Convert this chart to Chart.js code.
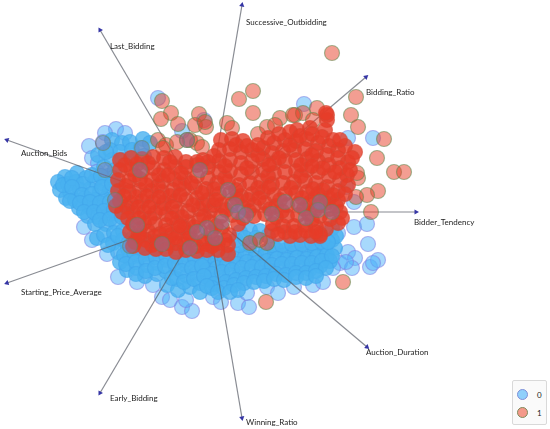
<!DOCTYPE html>
<html>
<head>
<meta charset="utf-8">
<script src="https://cdn.jsdelivr.net/npm/chart.js@4"></script>
<style>
    body { margin: 0; background: #fff; }
    #wrap { position: relative; width: 550px; height: 429px; overflow: hidden; }
    #legend { position: absolute; left: 512px; top: 380px; width: 33px; height: 43px; border: 1px solid #d9d9d9; border-radius: 2px; background: #fafafa; font: 8px Lato, sans-serif; color: #222; }
    #legend span { position: absolute; left: 24px; }
    #legend i { position: absolute; left: 4px; width: 9px; height: 9px; border-radius: 50%; border: 1.5px solid; }
</style>
</head>
<body>
<div id="wrap">
    <canvas id="radvizChart" width="550" height="429"></canvas>
    <div id="legend">
        <i style="top:8px;background:#8fd0fb;border-color:#7f8fd8"></i><span style="top:9px">0</span>
        <i style="top:26px;background:#f4998a;border-color:#7f8a5a"></i><span style="top:27px">1</span>
    </div>
</div>
<script>
const originPoint = [207, 212];
const anchorNames = ['Successive_Outbidding', 'Last_Bidding', 'Auction_Bids', 'Starting_Price_Average', 'Early_Bidding', 'Winning_Ratio', 'Auction_Duration', 'Bidder_Tendency', 'Bidding_Ratio'];
const anchorX = [242, 100, 7, 7, 100, 242, 367, 416, 366];
const anchorY = [5, 30, 140, 283, 393, 418, 347, 212, 77];
const labelX = [246, 110, 21, 21, 110, 246, 366, 414, 366];
const labelY = [22, 46, 153, 292, 398, 422, 352, 222, 92];

// class 0, loose points around the rim of the cloud
const class0Rim = [
    [116,129],[105,133],[125,133],[89,146],[103,142],[92,158],[98,163],[97,172],[84,227],[92,240],[107,254],[118,277],[137,282],[153,285],[162,297],[170,300],[182,307],[192,311],[186,300],[213,297],[221,302],[238,303],[249,307],[247,293],[267,287],[278,293],[294,287],[313,285],[323,282],
    [340,263],[348,252],[355,258],[352,268],[346,262],[370,267],[378,260],[368,244],[354,227],[367,224],[373,263],[333,268],[338,233],
    [158,98],[204,120],[182,131],[304,104],[348,138],[373,138],[346,187],[354,202]
];

// class 0, the packed part of the cloud
const class0Core = [
    [112,140],[122,143],[130,142],[143,139],[110,150],[120,152],[132,150],[141,148],[150,143],[98,155],[104,167],[112,160],[108,176],[122,160],[132,158],[144,156],[115,170],[106,152],
    [77,173],[65,177],[58,182],[60,190],[68,184],[76,182],[86,178],[95,181],[104,184],[113,178],[70,192],[80,190],[90,189],[100,192],[110,190],[118,186],[66,198],[75,200],[85,198],[95,200],[105,199],[115,197],[79,208],[89,207],[99,208],[109,207],[118,205],[88,216],[98,217],[108,215],[118,214],[127,211],[95,224],[106,224],[116,223],[127,221],
    [63,185],[72,178],[83,184],[92,175],[101,176],[72,187],[82,195],[92,194],[102,187],[112,184],[70,201],[80,203],[90,202],[100,203],[110,202],[84,212],[94,212],[104,211],[114,210],[100,220],[110,219],[122,217],
    [97,238],[104,235],[114,233],[123,231],[113,243],[123,240],[133,238],[118,252],[128,249],[138,247],[148,244],[120,262],[130,258],[140,256],[150,254],[160,252],[127,270],[137,268],[145,276],[147,265],[157,263],[167,260],[177,257],[187,255],[157,274],[166,271],[176,268],[186,265],[196,263],[206,260],[216,258],[226,255],[236,254],[246,252],[256,253],[266,251],[276,249],[286,250],[296,248],[306,249],[316,247],[326,245],
    [108,245],[118,236],[128,244],[124,255],[134,252],[144,250],[154,248],[126,264],[136,262],[146,259],[156,257],[166,255],[176,252],[186,250],[196,256],[206,254],[216,252],[136,274],[146,271],[155,268],[165,266],[175,263],[185,260],[195,258],[205,265],[215,263],[225,260],[235,259],[245,257],[255,258],[265,256],[275,254],[285,255],[295,253],[305,254],[315,252],[325,250],[240,245],[250,245],[272,245],[282,245],[292,244],[302,244],[312,243],[322,242],[332,240],
    [167,285],[177,279],[187,276],[197,273],[207,270],[217,268],[227,265],[237,264],[247,262],[257,263],[267,261],[277,259],[287,260],[297,258],[307,259],[317,257],[327,255],[335,248],[178,290],[190,287],[200,283],[210,280],[220,278],[230,275],[240,274],[250,272],[260,273],[270,271],[280,269],[290,270],[300,268],[310,269],[320,266],[330,261],
    [172,278],[182,271],[192,268],[202,266],[212,274],[222,272],[232,270],[242,268],[252,267],[262,267],[272,265],[282,264],[292,264],[302,263],[312,263],[322,261],[332,256],[184,282],[194,279],[204,276],[214,284],[226,282],[236,280],[246,278],[256,277],[266,276],[276,274],[286,275],[296,273],[306,273],[316,271],[326,268],
    [200,292],[212,288],[224,288],[234,285],[244,283],[254,282],[264,281],[274,279],[284,280],[296,277],[306,278],[316,276],[207,286],[218,292],[230,292],[238,290],
    [240,232],[250,230],[260,231],[268,236],[236,240],[245,238],[256,238],[332,228],[336,236],[328,242]
];

// class 1, the loose points that stand clear of the pack
const class1Rim = [
    [162,101],[171,113],[161,119],[178,124],[199,114],[195,125],[206,127],[205,122],[227,123],[232,128],[239,99],[253,91],[253,113],[190,140],[197,143],[202,147],[158,140],[166,145],[163,148],[187,140],[177,142],[332,53],[356,97],[351,115],[358,127],[384,139],[377,158],[394,172],[404,172],[378,191],[367,195],[356,197],[371,212],[358,178],[357,173],[295,115],[303,113],[280,118],[258,134],[267,127],[275,125],[293,115],[317,108],[313,120],[266,302],[343,282],[250,243],[260,240],[267,243]
];

// class 1, the packed part of the cloud
const class1Core = [
    [355,152],[327,115],[327,120],[326,113],[325,130],[310,128],[297,130],
    [120,160],[131,158],[142,159],[153,157],[164,158],[175,157],[120,170],[131,169],[142,171],[153,168],[164,170],[175,167],[186,162],[197,162],[208,162],[221,140],[232,139],[243,141],[219,150],[230,149],[241,152],[252,150],[263,148],[274,143],[285,140],[296,141],[307,139],[318,143],[329,146],[338,150],[272,153],[283,151],[294,150],[305,149],[316,151],[327,155],[338,158],[348,162],
    [118,180],[129,181],[140,179],[152,180],[163,181],[174,179],[185,178],[186,167],[197,165],[208,167],[219,161],[230,160],[241,163],[252,161],[263,159],[274,163],[285,161],[296,160],[307,159],[318,161],[329,165],[340,168],[347,175],[197,176],[208,178],[219,172],[230,171],[241,174],[252,172],[263,170],[274,173],[285,172],[296,171],[307,170],[318,172],[329,176],[340,180],[348,185],
    [118,191],[129,192],[140,190],[151,191],[162,192],[173,190],[184,189],[195,187],[206,189],[217,183],[228,182],[239,185],[250,183],[261,181],[272,184],[283,183],[294,182],[305,181],[316,183],[327,187],[338,191],[120,201],[131,203],[142,201],[153,202],[164,203],[175,201],[186,200],[197,198],[208,200],[219,194],[230,193],[241,196],[252,194],[263,192],[274,195],[285,194],[296,193],[307,192],[318,194],[329,198],[338,200],
    [122,212],[133,213],[144,212],[155,213],[166,214],[177,212],[188,211],[199,209],[210,211],[221,205],[232,204],[243,207],[254,205],[265,203],[276,206],[287,205],[298,204],[309,203],[320,205],[330,209],[340,212],[133,224],[144,223],[155,224],[166,225],[177,223],[188,222],[199,220],[210,222],[221,216],[232,215],[243,218],[254,216],[265,214],[276,217],[287,216],[298,215],[309,214],[320,216],[330,219],[338,223],
    [130,232],[148,231],[160,234],[171,235],[178,233],[189,233],[200,231],[211,232],[222,227],[229,235],[283,226],[294,226],[305,225],[316,227],[326,229],[272,231],[290,236],[300,235],[311,236],[320,234],[176,243],[176,252],[212,238],[228,245],[228,254],[192,240],[204,241],[285,232],[320,236],
    [125,165],[148,163],[170,162],[203,160],[236,145],[258,155],[290,145],[312,155],[335,172],[126,186],[158,186],[180,184],[225,178],[268,176],[301,176],[323,190],[136,197],[170,196],[214,189],[258,188],[291,188],[333,195],[127,207],[161,208],[203,204],[248,200],[280,200],[315,198],[150,218],[182,217],[226,210],[270,209],[304,209],[342,218],[140,228],[194,227],[238,224],[312,220],
    [137,164],[159,175],[181,173],[214,156],[247,146],[279,158],[301,165],[323,168],[135,175],[146,185],[168,175],[191,183],[225,166],[247,168],[269,165],[312,166],[345,194],[124,196],[147,196],[159,197],[180,195],[202,193],[236,190],[269,187],[313,189],[116,206],[138,207],[149,207],[172,207],[193,205],[214,205],[237,199],[259,198],[302,198],[326,203],[128,218],[139,218],[172,218],[204,216],[216,200],[249,211],[282,211],[315,210],[336,206],[273,224],[138,236],[155,236],[166,231],[184,228],[216,226],
    [135,242],[146,240],[157,242],[168,243],[184,244],[196,246],[206,244],[218,243],[225,240],[140,236],[152,245],[164,240],[212,246],[188,238],[175,238],[278,234],[295,232],[306,231],[316,232],[180,226],
    [258,145],[268,138],[279,134],[290,132],[300,136],[312,134],[322,137],[333,140],[345,146],[340,140],[352,158],[350,170],[133,246],[145,248],[156,249],[166,249],[186,250],[197,251],[207,250],[218,250]
];

// class 0 points that sit on top of the red and turn it muddy
const class0Mixed = [
    [140,170],[235,205],[285,202],[320,202],[238,212],[190,248],[207,228],[137,225],[105,170],[115,200],[142,148],[187,140],[103,143],[300,205],[246,215],[272,214],[162,244],[215,238],[200,170],[228,190],[222,222],[306,218],[318,210],[130,246],[197,232],[332,212]
];

// one short line dataset per anchor, from the middle of the cloud out to its arrow tip
const anchorSets = anchorNames.map(function(name, i) {
    let angle = Math.atan2(anchorX[i] - originPoint[0], originPoint[1] - anchorY[i]) * 180 / Math.PI;
    return {
        type: 'line',
        label: name,
        data: [{x: originPoint[0], y: originPoint[1]}, {x: anchorX[i], y: anchorY[i]}],
        borderColor: 'rgba(85, 90, 100, 0.7)',
        borderWidth: 1.2,
        pointRadius: [0, 3],
        pointStyle: 'triangle',
        pointRotation: [0, angle],
        pointBackgroundColor: '#3535a5',
        pointBorderColor: '#3535a5',
        pointBorderWidth: 0,
        order: 3
    };
});

function toPoints(list) {
    return list.map(function(p) {
        return {x: p[0], y: p[1]};
    });
}

function pointSet(label, list, fill, edge, order) {
    return {
        label: label,
        data: toPoints(list),
        backgroundColor: fill,
        borderColor: edge,
        borderWidth: 1.2,
        pointRadius: 7.5,
        order: order
    };
}

// names next to the arrow tips
const anchorLabels = {
    id: 'anchorLabels',
    afterDatasetsDraw: function(chart) {
        let ctx = chart.ctx;
        ctx.save();
        ctx.font = '8px Lato, sans-serif';
        ctx.fillStyle = '#1c1c1c';
        ctx.textBaseline = 'middle';
        anchorNames.forEach(function(name, i) {
            ctx.fillText(name, chart.scales.x.getPixelForValue(labelX[i]), chart.scales.y.getPixelForValue(labelY[i]));
        });
        ctx.restore();
    }
};

new Chart(document.getElementById('radvizChart').getContext('2d'), {
    type: 'scatter',
    data: {
        datasets: [
            pointSet('0', class0Rim, 'rgba(80, 180, 250, 0.5)', 'rgba(125, 125, 225, 0.55)', 6),
            pointSet('0', class0Core, 'rgba(72, 178, 240, 0.8)', 'rgba(65, 165, 235, 0.6)', 5)
        ].concat(anchorSets, [
            pointSet('1', class1Rim, 'rgba(232, 62, 38, 0.5)', 'rgba(95, 135, 75, 0.55)', 2),
            pointSet('1', class1Core, 'rgba(230, 60, 40, 0.8)', 'rgba(215, 70, 50, 0.6)', 1),
            pointSet('0', class0Mixed, 'rgba(125, 120, 170, 0.45)', 'rgba(110, 130, 90, 0.5)', 0)
        ])
    },
    options: {
        responsive: false,
        animation: false,
        layout: { padding: 0, autoPadding: false },
        plugins: { legend: { display: false }, tooltip: { enabled: false } },
        scales: {
            x: { type: 'linear', display: false, min: 0, max: 550 },
            y: { type: 'linear', display: false, min: 0, max: 429, reverse: true }
        }
    },
    plugins: [anchorLabels]
});
</script>
</body>
</html>
